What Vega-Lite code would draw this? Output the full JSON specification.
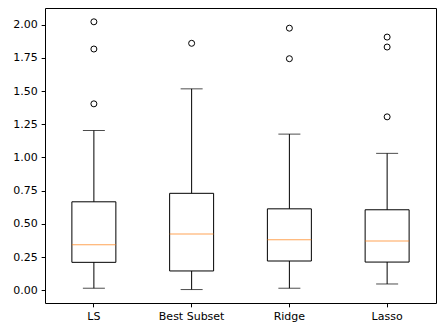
{
  "$schema": "https://vega.github.io/schema/vega-lite/v6.json",
  "autosize": {"type": "none"},
  "width": 391,
  "height": 295,
  "padding": {"left": 45, "top": 8, "right": 1, "bottom": 24},
  "background": "white",
  "datasets": {
    "stats": [
      {"method": "LS", "lo": 0.015, "q1": 0.21, "med": 0.343, "q3": 0.666, "hi": 1.203},
      {"method": "Best Subset", "lo": 0.005, "q1": 0.145, "med": 0.423, "q3": 0.73, "hi": 1.517},
      {"method": "Ridge", "lo": 0.015, "q1": 0.22, "med": 0.38, "q3": 0.613, "hi": 1.176},
      {"method": "Lasso", "lo": 0.047, "q1": 0.212, "med": 0.37, "q3": 0.606, "hi": 1.031}
    ],
    "outliers": [
      {"method": "LS", "value": 1.404},
      {"method": "LS", "value": 1.817},
      {"method": "LS", "value": 2.022},
      {"method": "Best Subset", "value": 1.86},
      {"method": "Ridge", "value": 1.744},
      {"method": "Ridge", "value": 1.974},
      {"method": "Lasso", "value": 1.306},
      {"method": "Lasso", "value": 1.832},
      {"method": "Lasso", "value": 1.907}
    ]
  },
  "encoding": {
    "x": {
      "field": "method",
      "type": "nominal",
      "sort": ["LS", "Best Subset", "Ridge", "Lasso"],
      "scale": {"type": "band", "paddingInner": 0, "paddingOuter": 0},
      "axis": {"title": null, "labelAngle": 0}
    }
  },
  "layer": [
    {
      "data": {"name": "stats"},
      "mark": {"type": "rule", "color": "black", "strokeWidth": 1},
      "encoding": {
        "y": {"field": "lo", "type": "quantitative", "scale": {"domain": [-0.0963, 2.126], "nice": false, "zero": false}, "axis": {"title": null, "values": [0, 0.25, 0.5, 0.75, 1, 1.25, 1.5, 1.75, 2], "format": ".2f", "labelOverlap": false}},
        "y2": {"field": "hi"}
      }
    },
    {
      "data": {"name": "stats"},
      "mark": {"type": "tick", "color": "black", "size": 22, "thickness": 1},
      "encoding": {"y": {"field": "lo", "type": "quantitative", "axis": {"title": null, "values": [0, 0.25, 0.5, 0.75, 1, 1.25, 1.5, 1.75, 2], "format": ".2f", "labelOverlap": false}}}
    },
    {
      "data": {"name": "stats"},
      "mark": {"type": "tick", "color": "black", "size": 22, "thickness": 1},
      "encoding": {"y": {"field": "hi", "type": "quantitative", "axis": {"title": null, "values": [0, 0.25, 0.5, 0.75, 1, 1.25, 1.5, 1.75, 2], "format": ".2f", "labelOverlap": false}}}
    },
    {
      "data": {"name": "stats"},
      "mark": {"type": "bar", "fill": "white", "stroke": "black", "strokeWidth": 1, "width": {"band": 0.45}},
      "encoding": {
        "y": {"field": "q1", "type": "quantitative", "axis": {"title": null, "values": [0, 0.25, 0.5, 0.75, 1, 1.25, 1.5, 1.75, 2], "format": ".2f", "labelOverlap": false}},
        "y2": {"field": "q3"}
      }
    },
    {
      "data": {"name": "stats"},
      "mark": {"type": "tick", "color": "#ff7f0e", "size": 44, "thickness": 1},
      "encoding": {"y": {"field": "med", "type": "quantitative", "axis": {"title": null, "values": [0, 0.25, 0.5, 0.75, 1, 1.25, 1.5, 1.75, 2], "format": ".2f", "labelOverlap": false}}}
    },
    {
      "data": {"name": "outliers"},
      "mark": {"type": "point", "shape": "circle", "filled": false, "color": "black", "size": 36, "strokeWidth": 1, "opacity": 1},
      "encoding": {"y": {"field": "value", "type": "quantitative", "axis": {"title": null, "values": [0, 0.25, 0.5, 0.75, 1, 1.25, 1.5, 1.75, 2], "format": ".2f", "labelOverlap": false}}}
    }
  ],
  "config": {
    "view": {"stroke": "black", "strokeWidth": 1},
    "axis": {
      "domain": false,
      "grid": false,
      "ticks": true,
      "tickColor": "black",
      "tickSize": 3.85,
      "tickWidth": 1,
      "labelColor": "black",
      "labelFont": "DejaVu Sans",
      "labelFontSize": 11,
      "labelPadding": 3.85,
      "labelOverlap": false
    }
  }
}
